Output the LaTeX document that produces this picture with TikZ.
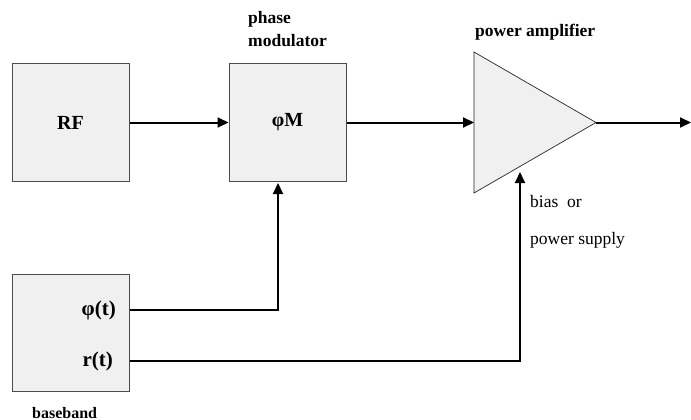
\documentclass[tikz,border=0pt]{standalone}
\usepackage{fontspec}
\setmainfont{Liberation Serif}
\usetikzlibrary{arrows.meta,positioning}

\begin{document}
\begin{tikzpicture}[
    x=1pt, y=-1pt,
    node distance=99pt and 99pt,
    blk/.style={draw=black!70, line width=1pt, fill=black!6, minimum size=117pt,
                inner sep=0pt, font=\fontsize{20}{24}\selectfont\bfseries},
    tag/.style={inner sep=0pt, font=\fontsize{17.5}{21}\selectfont\bfseries},
    note/.style={inner sep=0pt, font=\fontsize{17.5}{21}\selectfont},
    port/.style={inner sep=0pt, font=\fontsize{21}{25}\selectfont\bfseries},
    sig/.style={-{Triangle[length=11pt,width=10pt]}, line width=2pt},
]
\useasboundingbox (0,0) rectangle (691,420);

\node[blk] (rf) at (70.5,122.5) {RF};
\node[blk, right=of rf] (mod) {φM};
\node[blk, below=92pt of rf] (base) {};

\node[port, anchor=east] (pt) at (116,310) {φ(t)};
\node[port, anchor=east] (rt) at (113,361) {r(t)};

% amplifier triangle
\coordinate (amp-a) at (474,52);
\coordinate (amp-b) at (474,193);
\coordinate (amp-tip) at (596,122.5);
\coordinate (amp-in) at (474,122.5);
\coordinate (bias) at (520,172);
\coordinate (out) at (691,122.5);
\coordinate (mod-in) at (278,183);
\draw[draw=black!85, line width=0.7pt, fill=black!6] (amp-a) -- (amp-tip) -- (amp-b) -- cycle;

\node[tag, anchor=base west] (lbl-ph) at (248,24) {phase};
\node[tag, anchor=base west] (lbl-mod) at (248,47) {modulator};
\node[tag, anchor=base west] (lbl-amp) at (475,37) {power amplifier};
\node[tag, font=\fontsize{16}{19}\selectfont\bfseries, anchor=base west] (lbl-base) at (32,418) {baseband};
\node[note, anchor=base west] (lbl-bias) at (530,207) {bias~~or};
\node[note, anchor=base west] (lbl-sup) at (530,244) {power supply};

\draw[sig] (rf.east) -- (mod.west);
\draw[sig] (mod.east) -- (amp-in);
\draw[sig] (amp-tip) -- (out);
\draw[sig] (pt.east -| base.east) -| (mod-in);
\draw[sig] (rt.east -| base.east) -| (bias);
\end{tikzpicture}
\end{document}
